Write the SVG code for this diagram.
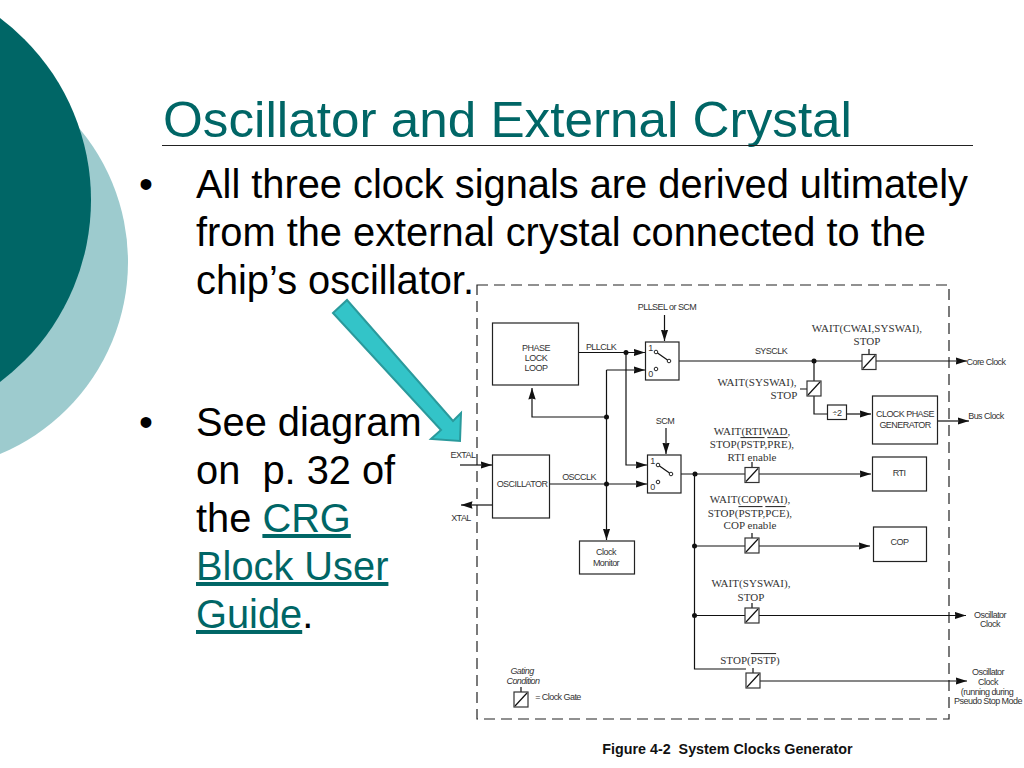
<svg xmlns="http://www.w3.org/2000/svg" width="1024" height="768" viewBox="0 0 1024 768">
<style>
.body{font-family:"Liberation Sans",Arial,sans-serif;font-size:39.800px;fill:#000}
.link{fill:#006666;text-decoration:underline}
.s{font-family:"Liberation Sans",Arial,sans-serif;font-size:9px;fill:#333;text-anchor:middle;letter-spacing:-.55px}
.r{font-family:"Liberation Serif","Times New Roman",serif;font-size:11px;fill:#333;text-anchor:middle;letter-spacing:.05px}
.b{fill:#fff;stroke:#222;stroke-width:1.2}
.w{fill:none;stroke:#111;stroke-width:1.2}
.d{fill:#111}
.o{text-decoration:overline}
.g{fill:#fff;stroke:#333;stroke-width:1.2}
</style>
<defs>
<marker id="ah" markerUnits="userSpaceOnUse" markerWidth="12" markerHeight="8" refX="11.500" refY="4" orient="auto"><path d="M0 .3L11.500 4L0 7.700L1 4Z" fill="#111"/></marker>
<symbol id="gate" overflow="visible"><rect class="g" width="14" height="15"/><path d="M1 14L13 1" class="w"/></symbol>
</defs>
<rect width="1024" height="768" fill="#fff"/>
<g id="decor">
<circle cx="-80" cy="262" r="208" fill="#9dcbce"/>
<circle cx="-136.500" cy="200" r="227.500" fill="#006666"/>
</g>
<g id="title">
<text x="163" y="137" font-family="Liberation Sans, Arial, sans-serif" font-size="50" fill="#006666" textLength="689" lengthAdjust="spacingAndGlyphs">Oscillator and External Crystal</text>
<path d="M162 145.500H973" stroke="#222" stroke-width="1.200"/>
</g>
<g id="bullets" class="body">
<text x="139" y="198">•</text>
<text x="196" y="198">All three clock signals are derived ultimately</text>
<text x="196" y="246">from the external crystal connected to the</text>
<text x="196" y="294">chip’s oscillator.</text>
<text x="139" y="436">•</text>
<text x="196" y="436">See diagram</text>
<text x="196" y="484">on&#160; p. 32 of</text>
<text x="196" y="532">the <tspan class="link">CRG</tspan></text>
<text x="196" y="580" class="link">Block User</text>
<text x="196" y="628"><tspan class="link">Guide</tspan>.</text>
</g>
<g id="frame"><rect x="477" y="285" width="472" height="434" fill="none" stroke="#222" stroke-width="1.200" stroke-dasharray="11 6"/></g>
<g id="connectors">
<path class="w" marker-end="url(#ah)" d="M664.500 315V341"/>
<path class="w" marker-end="url(#ah)" d="M578.500 352.500H645"/>
<path class="w" marker-end="url(#ah)" d="M606.500 370H645"/>
<path class="w" marker-end="url(#ah)" d="M606.500 417H532V388"/>
<path class="w" marker-end="url(#ah)" d="M626 352.500V465H647"/>
<path class="w" marker-end="url(#ah)" d="M666 428V454"/>
<path class="w" marker-end="url(#ah)" d="M549.500 484H647"/>
<path class="w" marker-end="url(#ah)" d="M606.500 370V540"/>
<path class="w" marker-end="url(#ah)" d="M460 465H492"/>
<path class="w" marker-end="url(#ah)" d="M492 505H461"/>
<path class="w" marker-end="url(#ah)" d="M671 361H967"/>
<path class="w" d="M814 361V381M814 396V414H827"/>
<path class="w" marker-end="url(#ah)" d="M846 414H871"/>
<path class="w" marker-end="url(#ah)" d="M937 421H969"/>
<path class="w" marker-end="url(#ah)" d="M671 474H871"/>
<path class="w" d="M694.500 474V669H746"/>
<path class="w" marker-end="url(#ah)" d="M694.500 546H870"/>
<path class="w" marker-end="url(#ah)" d="M694.500 615.500H966"/>
<path class="w" marker-end="url(#ah)" d="M760 681H967"/>
<path class="w" d="M869 354V349M752 467V462M752 538V533M752 608V603M753 673V668M521 692V687M807 389H800"/>
<circle class="d" cx="626" cy="352.500" r="2.500"/><circle class="d" cx="606.500" cy="417" r="2.500"/><circle class="d" cx="606.500" cy="484" r="2.500"/>
<circle class="d" cx="695" cy="474" r="2.500"/><circle class="d" cx="814" cy="361" r="2.500"/><circle class="d" cx="694.500" cy="546" r="2.500"/><circle class="d" cx="694.500" cy="615.500" r="2.500"/>
</g>
<g id="arrow-callout"><path d="M333 313L347 300L453 421L461 413L460 441L431 439L441 430Z" fill="#33c4c8" stroke="#2a9a9c" stroke-width="2"/></g>
<g id="pll"><rect class="b" x="492.500" y="323" width="86" height="62"/><text class="s" x="536" y="351">PHASE</text><text class="s" x="536" y="361">LOCK</text><text class="s" x="536" y="371">LOOP</text></g>
<g id="osc"><rect class="b" x="492.500" y="455" width="57" height="63"/><text class="s" x="522" y="487">OSCILLATOR</text></g>
<g id="monitor"><rect class="b" x="579.500" y="541" width="55" height="33"/><text class="s" x="606" y="555">Clock</text><text class="s" x="606" y="566">Monitor</text></g>
<g id="mux1"><rect class="b" x="645.500" y="342" width="33.500" height="38"/><text class="s" x="650.500" y="351">1</text><text class="s" x="650.500" y="377">0</text><circle cx="656" cy="352" r="1.800" fill="#fff" stroke="#222"/><circle cx="656" cy="369" r="1.800" fill="#fff" stroke="#222"/><circle cx="669" cy="361" r="1.800" fill="#fff" stroke="#222"/><path class="w" d="M657.500 353L667.500 360"/></g>
<g id="mux2"><rect class="b" x="647.500" y="455" width="33.500" height="38"/><text class="s" x="652.500" y="464">1</text><text class="s" x="652.500" y="490">0</text><circle cx="658" cy="465" r="1.800" fill="#fff" stroke="#222"/><circle cx="658" cy="482" r="1.800" fill="#fff" stroke="#222"/><circle cx="671" cy="474" r="1.800" fill="#fff" stroke="#222"/><path class="w" d="M659.500 466L669.500 473"/></g>
<g id="div2"><rect class="b" x="827.500" y="405" width="19" height="14.500"/><text class="s" x="837" y="416">÷2</text></g>
<g id="cpg"><rect class="b" x="872.500" y="396" width="65" height="48"/><text class="s" x="905" y="417">CLOCK PHASE</text><text class="s" x="905" y="428">GENERATOR</text></g>
<g id="rti"><rect class="b" x="872.500" y="457" width="54" height="34"/><text class="s" x="899" y="476">RTI</text></g>
<g id="cop"><rect class="b" x="873.500" y="527" width="53" height="34.500"/><text class="s" x="899.500" y="545">COP</text></g>
<g id="gates">
<use href="#gate" x="862" y="354.500"/><use href="#gate" x="807" y="381"/><use href="#gate" x="745" y="467.500"/><use href="#gate" x="745" y="538"/><use href="#gate" x="745" y="608"/><use href="#gate" x="746" y="673"/><use href="#gate" x="514" y="692"/>
</g>
<g id="labels">
<text class="s" x="667" y="310">PLLSEL or SCM</text>
<text class="s" x="601" y="350">PLLCLK</text>
<text class="s" x="665" y="424">SCM</text>
<text class="s" x="579" y="480">OSCCLK</text>
<text class="s" x="463" y="458">EXTAL</text>
<text class="s" x="461" y="521">XTAL</text>
<text class="s" x="771" y="354">SYSCLK</text>
<text class="r" x="867" y="332">WAIT(CWAI,SYSWAI),</text><text class="r" x="867" y="345">STOP</text>
<text class="r" x="757" y="386">WAIT(SYSWAI),</text><text class="r" x="784" y="399">STOP</text>
<text class="r" x="752" y="435">WAIT(RTIWAD,</text><text class="r" x="752" y="448">STOP(<tspan class="o">PSTP</tspan>,<tspan class="o">PRE</tspan>),</text><text class="r" x="752" y="461">RTI enable</text>
<text class="r" x="750" y="503">WAIT(COPWAI),</text><text class="r" x="750" y="517">STOP(<tspan class="o">PSTP</tspan>,<tspan class="o">PCE</tspan>),</text><text class="r" x="750" y="529">COP enable</text>
<text class="r" x="751" y="587">WAIT(SYSWAI),</text><text class="r" x="751" y="601">STOP</text>
<text class="r" x="750" y="664">STOP(<tspan class="o">PSTP</tspan>)</text>
<text class="s" x="986" y="365">Core Clock</text>
<text class="s" x="986" y="419">Bus Clock</text>
<text class="s" x="990" y="618">Oscillator</text><text class="s" x="990" y="627">Clock</text>
<text class="s" x="988" y="675">Oscillator</text><text class="s" x="988" y="685">Clock</text><text class="s" x="987" y="695">(running during</text><text class="s" x="988" y="704">Pseudo Stop Mode</text>
<text class="s" x="522" y="674" font-style="italic">Gating</text><text class="s" x="523" y="684" font-style="italic">Condition</text>
<text class="s" x="558" y="700">= Clock Gate</text>
<text x="727.500" y="754" font-family="Liberation Sans, Arial, sans-serif" font-size="14.300" font-weight="bold" fill="#111" text-anchor="middle">Figure 4-2&#160; System Clocks Generator</text>
</g>
</svg>
